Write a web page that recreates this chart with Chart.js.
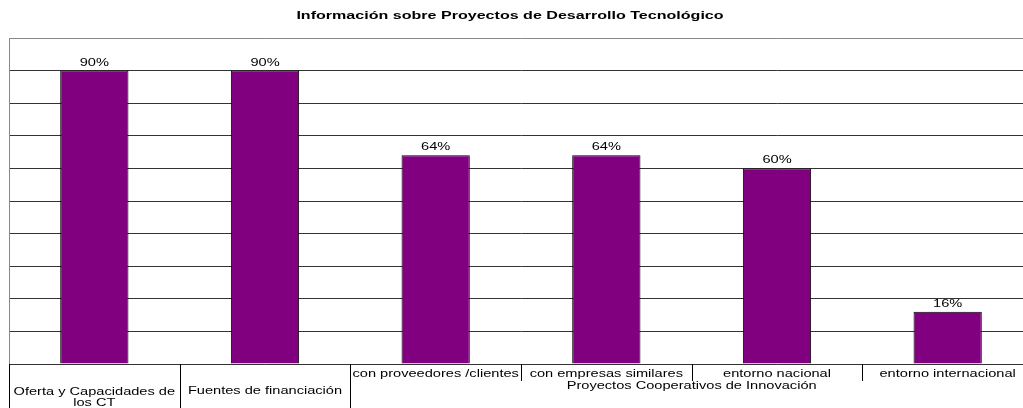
<!DOCTYPE html>
<html>
<head>
<meta charset="utf-8">
<script src="https://cdn.jsdelivr.net/npm/chart.js@4"></script>
<style>
    html, body { margin: 0; padding: 0; background: #fff; overflow: hidden; }
    #wrap { width: 1040px; height: 408px; }
</style>
</head>
<body>
<div id="wrap"><canvas id="chart" width="1040" height="408"></canvas></div>
<script>
// chart data
const chartTitle = 'Información sobre Proyectos de Desarrollo Tecnológico';
const categories = ['Oferta y Capacidades de los CT', 'Fuentes de financiación', 'con proveedores /clientes', 'con empresas similares', 'entorno nacional', 'entorno internacional'];
const subLabels = ['', '', 'con proveedores /clientes', 'con empresas similares', 'entorno nacional', 'entorno internacional'];
const groupLabels = [['Oferta y Capacidades de', 'los CT'], ['Fuentes de financiación'], ['Proyectos Cooperativos de Innovación']];
const groupSizes = [1, 1, 4];
const values = [90, 90, 64, 64, 60, 16];

// the original picture is stretched sideways, so text is too
const SX = 1.46;
const FONT = '"Liberation Sans", Arial, sans-serif';

function stretchText(ctx, text, x, y) {
    ctx.save();
    ctx.translate(x, y);
    ctx.scale(SX, 1);
    ctx.fillText(text, 0, 0);
    ctx.restore();
}

const textPlugin = {
    id: 'textPlugin',
    afterDraw(chart) {
        const ctx = chart.ctx;
        const area = chart.chartArea;
        const xs = chart.scales.x;
        ctx.save();
        ctx.fillStyle = '#000';
        ctx.textAlign = 'center';
        ctx.textBaseline = 'alphabetic';

        // title
        ctx.font = 'bold 11px ' + FONT;
        stretchText(ctx, chartTitle, 510, 19);

        // value labels above bars
        ctx.font = '10px ' + FONT;
        chart.getDatasetMeta(0).data.forEach((bar, i) => {
            stretchText(ctx, values[i] + '%', bar.x, bar.y - 5);
        });

        // category table under the axis
        const half = (xs.getPixelForValue(1) - xs.getPixelForValue(0)) / 2;
        const edge = i => xs.getPixelForValue(i) - half;
        const bottom = area.bottom;

        ctx.strokeStyle = '#000';
        ctx.lineWidth = 1;
        let start = 0;
        groupSizes.forEach((n, g) => {
            // full height line at group start, short ones inside
            for (let k = 0; k < n; k++) {
                const x = Math.round(edge(start + k)) + 0.5;
                ctx.beginPath();
                ctx.moveTo(x, bottom);
                ctx.lineTo(x, k === 0 ? bottom + 50 : bottom + 17);
                ctx.stroke();
            }
            const cx = (edge(start) + edge(start + n)) / 2;
            const lines = groupLabels[g];
            if (n === 1) {
                const y0 = lines.length > 1 ? bottom + 31 : bottom + 30;
                lines.forEach((t, j) => stretchText(ctx, t, cx, y0 + j * 11));
            } else {
                lines.forEach((t, j) => stretchText(ctx, t, cx, bottom + 25 + j * 11));
            }
            start += n;
        });

        subLabels.forEach((t, i) => {
            if (t) stretchText(ctx, t, xs.getPixelForValue(i), bottom + 13);
        });
        ctx.restore();
    }
};

const ctx = document.getElementById('chart').getContext('2d');
const myChart = new Chart(ctx, {
    type: 'bar',
    data: {
        labels: categories,
        datasets: [{
            data: values,
            backgroundColor: '#800080',
            borderColor: '#000',
            borderWidth: 1,
            barPercentage: 0.4,
            categoryPercentage: 1
        }]
    },
    options: {
        responsive: false,
        animation: false,
        devicePixelRatio: 1,
        layout: { padding: { left: 9, right: 7, top: 38, bottom: 44 } },
        plugins: {
            legend: { display: false },
            title: { display: false },
            tooltip: { enabled: false }
        },
        scales: {
            x: { display: false },
            y: {
                min: 0,
                max: 100,
                ticks: { display: false, stepSize: 10 },
                grid: {
                    drawTicks: false,
                    color: c => c.tick && c.tick.value === 100 ? '#888' : '#333'
                },
                border: { display: true, color: '#888' }
            }
        }
    },
    plugins: [textPlugin]
});
</script>
</body>
</html>
